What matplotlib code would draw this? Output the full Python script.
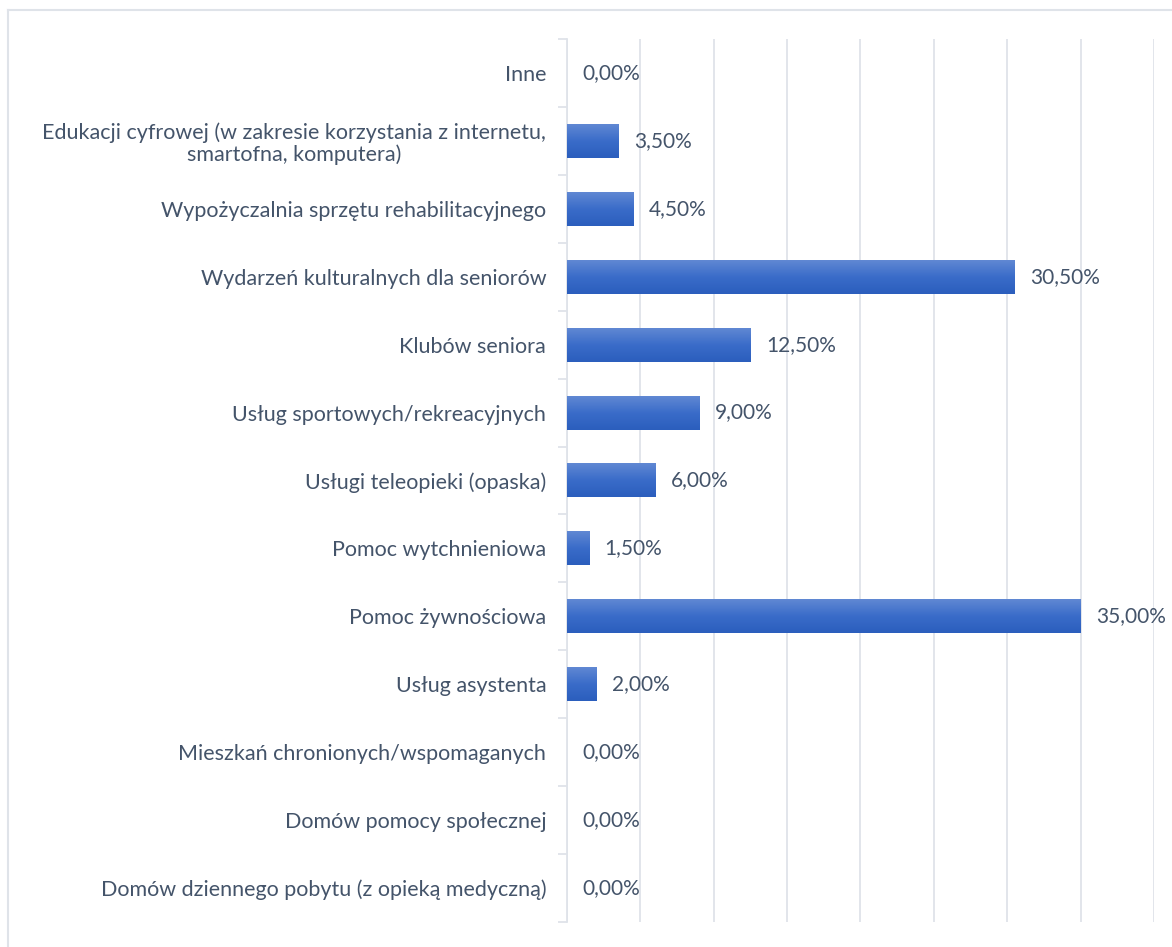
import matplotlib
matplotlib.use("Agg")
import matplotlib.pyplot as plt
import numpy as np
from matplotlib.lines import Line2D
from matplotlib.colors import LinearSegmentedColormap

categories = [
    "Inne",
    "Edukacji cyfrowej (w zakresie korzystania z internetu,\nsmartofna, komputera)",
    "Wypożyczalnia sprzętu rehabilitacyjnego",
    "Wydarzeń kulturalnych dla seniorów",
    "Klubów seniora",
    "Usług sportowych/rekreacyjnych",
    "Usługi teleopieki (opaska)",
    "Pomoc wytchnieniowa",
    "Pomoc żywnościowa",
    "Usług asystenta",
    "Mieszkań chronionych/wspomaganych",
    "Domów pomocy społecznej",
    "Domów dziennego pobytu (z opieką medyczną)",
]
values = [0.0, 3.5, 4.5, 30.5, 12.5, 9.0, 6.0, 1.5, 35.0, 2.0, 0.0, 0.0, 0.0]

W, H = 1172, 947
fig = plt.figure(figsize=(W / 100, H / 100), dpi=100)
plt.rcParams['font.family'] = ['Lato', 'DejaVu Sans']
txt = "#44546a"
grid = "#dfe3e9"
fs = 15.5

ax = fig.add_axes([567 / W, 1 - 922 / H, (1154 - 567) / W, (922 - 39) / H])
n = len(categories)
y = np.arange(n)

grad = np.linspace(0, 1, 100).reshape(-1, 1)
cmap = LinearSegmentedColormap.from_list("g", ["#6088d3", "#3a6cc9", "#2b5ebd"])
bh = 0.5
for yi, v in zip(y, values):
    if v > 0:
        ax.imshow(grad, cmap=cmap, aspect="auto",
                  extent=[0, v, yi + bh / 2, yi - bh / 2], zorder=3, interpolation="bilinear")
    ax.text(v + 1.05, yi, f"{v:.2f}%".replace(".", ","), va="center", ha="left",
            fontsize=15, color=txt, zorder=4)
ax.set_xlim(0, 40)
ax.set_ylim(n - 0.5, -0.5)

ax.set_xticks(np.arange(0, 41, 5))
ax.tick_params(axis="x", length=0, labelbottom=False)
ax.grid(axis="x", color=grid, lw=1.3, zorder=0)
ax.set_yticks(y)
ax.set_yticklabels(categories, fontsize=fs, color=txt, ha="right", multialignment="center",
                   linespacing=1.1)
ax.tick_params(axis="y", which="major", length=0, pad=15)
ax.set_yticks(np.arange(-0.5, n, 1), minor=True)
ax.tick_params(axis="y", which="minor", length=6.5, color=grid, width=1.3)
for s in ["top", "right", "bottom"]:
    ax.spines[s].set_visible(False)
ax.spines["left"].set_color(grid)
ax.spines["left"].set_linewidth(1.3)
ax.set_axisbelow(True)

fig.add_artist(Line2D([7.5 / W, 7.5 / W], [0, 1 - 10 / H], transform=fig.transFigure, color=grid, lw=1.5))
fig.add_artist(Line2D([7.5 / W, 1171 / W], [1 - 10 / H, 1 - 10 / H], transform=fig.transFigure, color=grid, lw=1.5))

fig.savefig("out.png", dpi=100)
